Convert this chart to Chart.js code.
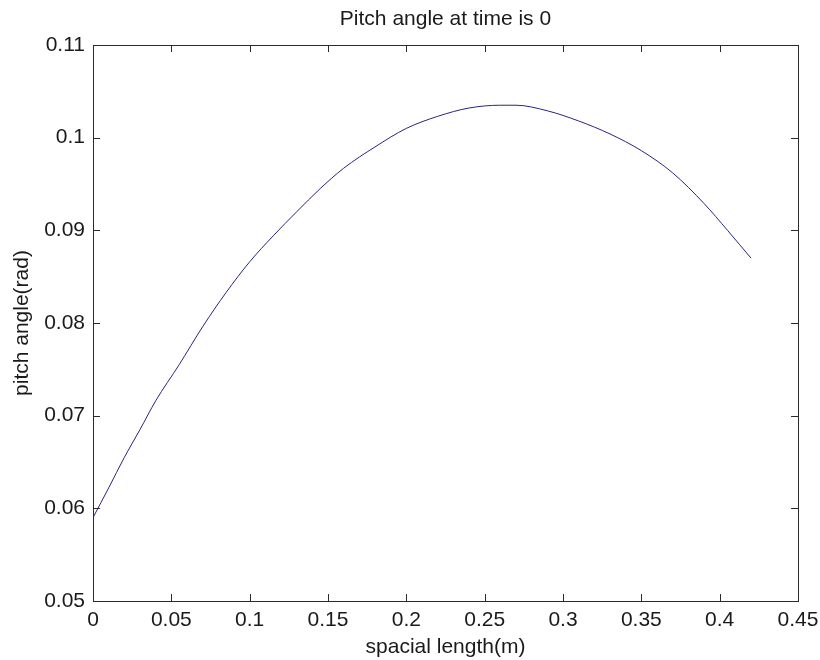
<!DOCTYPE html>
<html>
<head>
<meta charset="utf-8">
<title>Pitch angle</title>
<script src="https://cdn.jsdelivr.net/npm/chart.js@4.4.0/dist/chart.umd.min.js"></script>
<style>
    body { margin: 0; background: #fff; }
    #pitchChart { display: block; }
</style>
</head>
<body>
<canvas id="pitchChart" width="820" height="660"></canvas>
<script>
// spacial length (m) along the beam and the pitch angle (rad) there
const lengthValues = [0, 0.01, 0.02, 0.03, 0.04, 0.055, 0.07, 0.085, 0.1, 0.115, 0.13, 0.145,
    0.16, 0.18, 0.2, 0.22, 0.24, 0.26, 0.27, 0.29, 0.31, 0.33, 0.35, 0.37, 0.39, 0.405, 0.42];
const pitchValues = [0.0590, 0.0622, 0.0655, 0.0685, 0.0716, 0.0755, 0.0796, 0.0833, 0.0866,
    0.0894, 0.0920, 0.0945, 0.0967, 0.0990, 0.1010, 0.1023, 0.1032, 0.1035, 0.1035, 0.1029,
    0.1018, 0.1004, 0.0986, 0.0962, 0.0929, 0.0900, 0.0870];

const xTickRange = { min: 0, max: 0.45, step: 0.05 };
const yTickRange = { min: 0.05, max: 0.11, step: 0.01 };

const fontFamily = "'Liberation Sans', Arial, sans-serif";
const textColor = '#1a1a1a';
const axisColor = '#2a2a2a';
const lineColor = '#26267e';

function tickLabel(v) {
    return Number(v.toFixed(2)).toString();
}

// box around the plot area with inward ticks on all four sides
const boxTicks = {
    id: 'boxTicks',
    afterDraw(chart) {
        const { ctx, chartArea: a, scales: { x, y } } = chart;
        const len = 7;
        ctx.save();
        ctx.strokeStyle = axisColor;
        ctx.lineWidth = 1;
        ctx.strokeRect(Math.round(a.left) + 0.5, Math.round(a.top) + 0.5,
            Math.round(a.right - a.left), Math.round(a.bottom - a.top));
        ctx.beginPath();
        x.ticks.forEach(t => {
            const px = Math.round(x.getPixelForValue(t.value)) + 0.5;
            ctx.moveTo(px, a.bottom); ctx.lineTo(px, a.bottom - len);
            ctx.moveTo(px, a.top); ctx.lineTo(px, a.top + len);
        });
        y.ticks.forEach(t => {
            const py = Math.round(y.getPixelForValue(t.value)) + 0.5;
            ctx.moveTo(a.left, py); ctx.lineTo(a.left + len, py);
            ctx.moveTo(a.right, py); ctx.lineTo(a.right - len, py);
        });
        ctx.stroke();
        ctx.restore();
    }
};

function createPitchChart() {
    const ctx = document.getElementById('pitchChart').getContext('2d');
    const points = lengthValues.map((v, i) => ({ x: v, y: pitchValues[i] }));
    const font = { family: fontFamily, size: 21 };

    new Chart(ctx, {
        type: 'line',
        data: {
            datasets: [{
                label: 'pitch angle',
                data: points,
                borderColor: lineColor,
                borderWidth: 1,
                pointRadius: 0,
                fill: false,
                cubicInterpolationMode: 'monotone'
            }]
        },
        options: {
            responsive: false,
            animation: false,
            layout: { padding: { left: 0, right: 22, top: 0, bottom: 0 } },
            plugins: {
                legend: { display: false },
                tooltip: { enabled: false }
            },
            scales: {
                x: {
                    type: 'linear',
                    min: xTickRange.min,
                    max: xTickRange.max,
                    afterFit: scale => {
                        scale.height = 59;
                        scale.paddingLeft = 0;
                        scale.paddingRight = 0;
                    },
                    grid: { display: false, drawTicks: false },
                    border: { display: false },
                    ticks: {
                        stepSize: xTickRange.step,
                        padding: 7,
                        color: textColor,
                        font: font,
                        maxRotation: 0,
                        callback: tickLabel
                    },
                    title: {
                        display: true,
                        text: 'spacial length(m)',
                        color: textColor,
                        font: font,
                        padding: { top: 0, bottom: 0 }
                    }
                },
                // top axis only carries the heading, centred over the plot box
                top: {
                    type: 'linear',
                    position: 'top',
                    min: xTickRange.min,
                    max: xTickRange.max,
                    afterFit: scale => {
                        scale.height = 45;
                        scale.paddingLeft = 0;
                        scale.paddingRight = 0;
                    },
                    grid: { display: false, drawTicks: false },
                    border: { display: false },
                    ticks: { display: false },
                    title: {
                        display: true,
                        text: 'Pitch angle at time is 0',
                        color: textColor,
                        font: font,
                        padding: { top: 7, bottom: 0 }
                    }
                },
                y: {
                    type: 'linear',
                    min: yTickRange.min,
                    max: yTickRange.max,
                    afterFit: scale => { scale.width = 93; },
                    grid: { display: false, drawTicks: false },
                    border: { display: false },
                    ticks: {
                        stepSize: yTickRange.step,
                        padding: 8,
                        color: textColor,
                        font: font,
                        callback: tickLabel
                    },
                    title: {
                        display: true,
                        text: 'pitch angle(rad)',
                        color: textColor,
                        font: font,
                        padding: { top: 10, bottom: 0 }
                    }
                }
            }
        },
        plugins: [boxTicks]
    });
}

document.addEventListener('DOMContentLoaded', createPitchChart);
</script>
</body>
</html>
